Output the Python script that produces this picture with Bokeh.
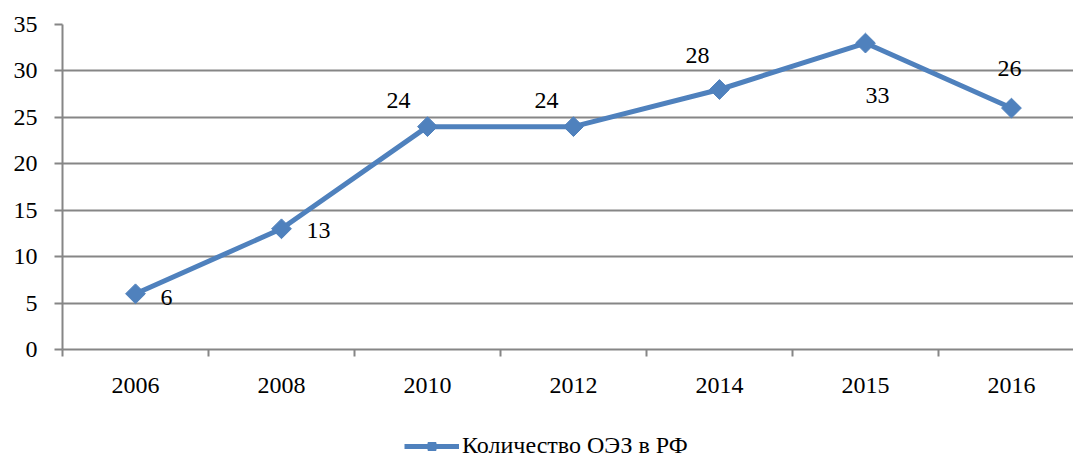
import math
from bokeh.plotting import figure
from bokeh.layouts import column
from bokeh.models import (ColumnDataSource, Range1d, FixedTicker, Legend, LegendItem,
                          LabelSet)
from bokeh.embed import file_html
from bokeh.resources import INLINE

years = ["2006", "2008", "2010", "2012", "2014", "2015", "2016"]
counts = [6, 13, 24, 24, 28, 33, 26]
series_name = "Количество ОЭЗ в РФ"
y_ticks = [0, 5, 10, 15, 20, 25, 30, 35]

# label offsets in screen pixels (style, not data)
label_dx = [31, 37, -29, -27, -22, 12, -2]
label_dy = [-4, -2, 26, 26, 34, -52, 40]

FONT = "'Liberation Serif', 'Times New Roman', serif"
BLUE = "#4F81BD"
GRID = "#868686"
FS = "24px"

idx = list(range(len(years)))
src = ColumnDataSource(dict(x=idx, y=counts, t=[str(c) for c in counts],
                            dx=label_dx, dy=label_dy))

p = figure(frame_width=1011, frame_height=325, output_backend="svg", toolbar_location=None,
           x_range=Range1d(-0.5, 6.425), y_range=Range1d(0, 35),
           min_border_left=62, min_border_right=0, min_border_top=24,
           min_border_bottom=60)
p.outline_line_color = None
p.background_fill_color = "white"
p.border_fill_color = "white"

line_style = dict(line_color=BLUE, line_width=5)
marker_style = dict(marker="square", size=14, angle=math.pi / 4,
                    fill_color=BLUE, line_color=BLUE)

p.line("x", "y", source=src, **line_style)
p.scatter("x", "y", source=src, **marker_style)

labels = LabelSet(x="x", y="y", text="t", source=src, x_offset="dx", y_offset="dy",
                  text_align="center", text_baseline="middle",
                  text_font=FONT, text_font_size=FS, text_color="black")
p.add_layout(labels)

# grid
p.xgrid.grid_line_color = None
p.ygrid.grid_line_color = GRID
p.ygrid.grid_line_width = 2
p.ygrid.ticker = FixedTicker(ticks=y_ticks)

# y axis
p.yaxis.ticker = FixedTicker(ticks=y_ticks)
p.yaxis.axis_line_color = GRID
p.yaxis.axis_line_width = 2
p.yaxis.major_tick_line_color = GRID
p.yaxis.major_tick_line_width = 2
p.yaxis.major_tick_out = 8
p.yaxis.major_tick_in = 0
p.yaxis.minor_tick_line_color = None
p.yaxis.major_label_standoff = 17
p.yaxis.major_label_text_font = FONT
p.yaxis.major_label_text_font_size = FS
p.yaxis.major_label_text_color = "black"

# x axis
p.xaxis.ticker = FixedTicker(ticks=idx, minor_ticks=[i - 0.5 for i in range(len(years) + 1)])
p.xaxis.major_label_overrides = {i: y for i, y in enumerate(years)}
p.xaxis.axis_line_color = GRID
p.xaxis.axis_line_width = 2
p.xaxis.major_tick_line_color = None
p.xaxis.major_tick_out = 0
p.xaxis.major_tick_in = 0
p.xaxis.minor_tick_line_color = GRID
p.xaxis.minor_tick_line_width = 2
p.xaxis.minor_tick_out = 7
p.xaxis.minor_tick_in = 0
p.xaxis.major_label_standoff = 21
p.xaxis.major_label_text_font = FONT
p.xaxis.major_label_text_font_size = FS
p.xaxis.major_label_text_color = "black"

# legend strip below the chart (series renderers kept out of its visible range)
p2 = figure(width=1073, height=50, output_backend="svg", toolbar_location=None,
            x_axis_type=None, y_axis_type=None, min_border=0,
            x_range=Range1d(100, 101), y_range=Range1d(100, 101))
p2.outline_line_color = None
p2.grid.visible = False
p2.background_fill_color = "white"
p2.border_fill_color = "white"
l2 = p2.line("x", "y", source=src, **line_style)
s2 = p2.scatter("x", "y", source=src, **marker_style)

legend = Legend(items=[LegendItem(label=series_name, renderers=[l2, s2])],
                location=(342, 0), orientation="horizontal",
                label_text_font=FONT, label_text_font_size=FS,
                label_text_color="black", glyph_width=55, glyph_height=20,
                label_height=20,
                border_line_color=None, background_fill_alpha=0,
                margin=0, padding=0, label_standoff=3)
p2.add_layout(legend)

layout = column(p, p2, spacing=0)
open("out.html", "w").write(file_html(layout, INLINE))
